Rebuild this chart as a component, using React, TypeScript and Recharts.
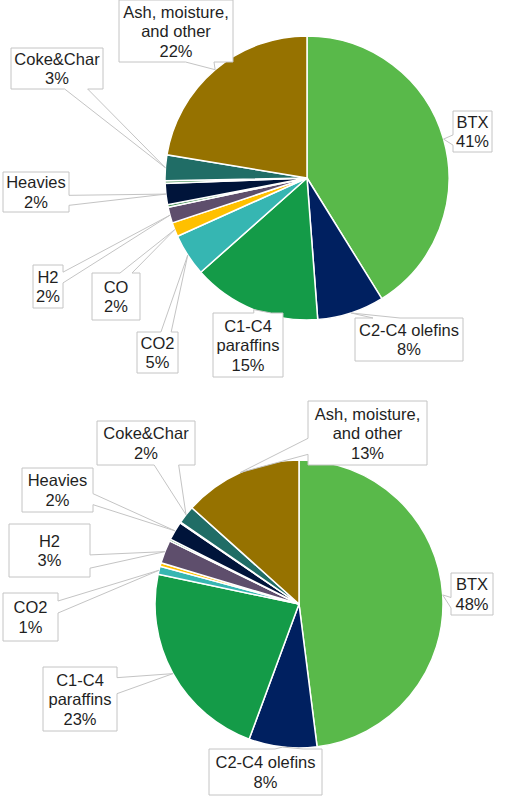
import React from 'react';
import { PieChart, Pie, Cell } from 'recharts';

// categories, clockwise from 12 o'clock
const categories = [
    'BTX',
    'C2-C4 olefins',
    'C1-C4 paraffins',
    'CO2',
    'CO',
    'H2',
    'Minor A',
    'Heavies',
    'Minor B',
    'Coke&Char',
    'Ash, moisture, and other',
];

const topValues = [41, 7.6, 14.6, 4.8, 1.6, 1.8, 0.3, 2.4, 0.3, 2.9, 22.3];
const bottomValues = [47.8, 7.6, 22.6, 0.9, 0.4, 2.6, 0.2, 2.1, 0.1, 2.0, 13.3];

const colors = [
    '#59B94A',
    '#002060',
    '#149B48',
    '#36B6B2',
    '#FFC000',
    '#5E4E6C',
    '#3C8C4C',
    '#00143A',
    '#3C8C4C',
    '#206D66',
    '#967200',
];

// how the longer names are broken inside their callouts
const wrapped: Record<string, string[]> = {
    'Ash, moisture, and other': ['Ash, moisture,', 'and other'],
    'C1-C4 paraffins': ['C1-C4', 'paraffins'],
};

type Box = { x: number; y: number; w: number; h: number };

// callout boxes, placed by hand like the original
const topBoxes: Record<string, Box> = {
    'Ash, moisture, and other': { x: 119, y: 0, w: 114, h: 62 },
    'Coke&Char': { x: 11, y: 48, w: 92, h: 41 },
    BTX: { x: 453, y: 111, w: 39, h: 41 },
    Heavies: { x: 3, y: 172, w: 66, h: 40 },
    H2: { x: 33, y: 265, w: 30, h: 43 },
    CO: { x: 92, y: 273, w: 48, h: 47 },
    CO2: { x: 137, y: 332, w: 41, h: 41 },
    'C1-C4 paraffins': { x: 213, y: 313, w: 70, h: 64 },
    'C2-C4 olefins': { x: 355, y: 318, w: 108, h: 43 },
};

const bottomBoxes: Record<string, Box> = {
    'Ash, moisture, and other': { x: 308, y: 21, w: 119, h: 64 },
    'Coke&Char': { x: 97, y: 41, w: 98, h: 44 },
    Heavies: { x: 22, y: 88, w: 71, h: 44 },
    H2: { x: 9, y: 144, w: 81, h: 53 },
    CO2: { x: 3, y: 213, w: 55, h: 48 },
    'C1-C4 paraffins': { x: 43, y: 287, w: 74, h: 64 },
    'C2-C4 olefins': { x: 209, y: 369, w: 113, h: 46 },
    BTX: { x: 451, y: 193, w: 42, h: 42 },
};

const RAD = Math.PI / 180;
const FONT = '"Liberation Sans", Arial, sans-serif';

// rectangle callout with a wedge pointing at the slice (same geometry as Office's wedgeRectCallout)
const calloutPath = (b: Box, tx: number, ty: number) => {
    const l = b.x, t = b.y, r = b.x + b.w, btm = b.y + b.h;
    const dx = tx - (l + b.w / 2);
    const dy = ty - (t + b.h / 2);
    const dz = Math.abs(dy) - (Math.abs(dx) * b.h) / b.w;
    const x1 = l + (b.w * (dx > 0 ? 7 : 2)) / 12;
    const x2 = l + (b.w * (dx > 0 ? 10 : 5)) / 12;
    const y1 = t + (b.h * (dy > 0 ? 7 : 2)) / 12;
    const y2 = t + (b.h * (dy > 0 ? 10 : 5)) / 12;
    const side = dz > 0 ? (dy < 0 ? 'top' : 'bottom') : dx < 0 ? 'left' : 'right';
    const tip = `L${tx},${ty}`;
    let d = `M${l},${t}`;
    if (side === 'top') d += `L${x1},${t}${tip}L${x2},${t}`;
    d += `L${r},${t}`;
    if (side === 'right') d += `L${r},${y1}${tip}L${r},${y2}`;
    d += `L${r},${btm}`;
    if (side === 'bottom') d += `L${x2},${btm}${tip}L${x1},${btm}`;
    d += `L${l},${btm}`;
    if (side === 'left') d += `L${l},${y2}${tip}L${l},${y1}`;
    return d + 'Z';
};

const makeLabel = (boxes: Record<string, Box>) => (props: any) => {
    const { cx, cy, midAngle, outerRadius, percent, payload } = props;
    const name = payload?.name ?? props.name;
    const box = boxes[name];
    if (!box) return <g />;
    const tx = cx + outerRadius * Math.cos(-midAngle * RAD);
    const ty = cy + outerRadius * Math.sin(-midAngle * RAD);
    const lines = [...(wrapped[name] ?? [name]), `${Math.round(percent * 100)}%`];
    const lh = 19.5;
    const midY = box.y + box.h / 2;
    return (
        <g>
            <path d={calloutPath(box, tx, ty)} fill="#fff" stroke="#c4c4c4" strokeWidth={1} />
            {lines.map((s, i) => (
                <text
                    key={i}
                    x={box.x + box.w / 2}
                    y={midY + (i - (lines.length - 1) / 2) * lh}
                    textAnchor="middle"
                    dominantBaseline="central"
                    fontFamily={FONT}
                    fontSize={16.5}
                    fill="#1f1f1f"
                >
                    {s}
                </text>
            ))}
        </g>
    );
};

const toRows = (values: number[]) => categories.map((name, i) => ({ name, value: values[i] }));

const Donut = ({ values, boxes, height, cx, cy, r }: any) => (
    <PieChart width={510} height={height} margin={{ top: 0, right: 0, bottom: 0, left: 0 }}>
        <Pie
            data={toRows(values)}
            dataKey="value"
            nameKey="name"
            cx={cx}
            cy={cy}
            outerRadius={r}
            startAngle={90}
            endAngle={-270}
            stroke="#ffffff"
            strokeWidth={1.5}
            labelLine={false}
            label={makeLabel(boxes)}
            isAnimationActive={false}
        >
            {categories.map((c, i) => (
                <Cell key={c} fill={colors[i]} />
            ))}
        </Pie>
    </PieChart>
);

export default function App() {
    return (
        <div style={{ position: 'absolute', left: 0, top: 0, width: 510, height: 800, background: '#fff' }}>
            <Donut values={topValues} boxes={topBoxes} height={380} cx={307} cy={178} r={142} />
            <Donut values={bottomValues} boxes={bottomBoxes} height={420} cx={299} cy={224} r={144} />
        </div>
    );
}
